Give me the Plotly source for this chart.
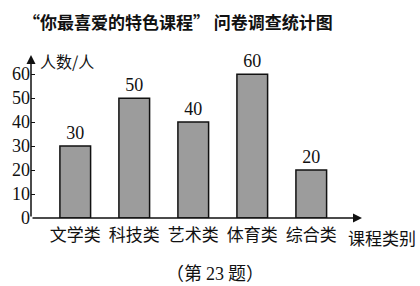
import plotly.graph_objects as go

categories = ["文学类", "科技类", "艺术类", "体育类", "综合类"]
values = [30, 50, 40, 60, 20]
y_ticks = [0, 10, 20, 30, 40, 50, 60]

SERIF = "Liberation Serif"
CJK = "Noto Sans CJK SC"

W, H = 420, 286
pl, pr, pt, pb = 29, 58, 55, 68
pw, ph = W - pl - pr, H - pt - pb

def px(x):
    return (x - pl) / pw

def py(y):
    return (H - pb - y) / ph

xs = list(range(len(categories)))
fig = go.Figure()
fig.add_trace(go.Bar(
    x=xs, y=values, width=0.52,
    marker=dict(color="#9c9c9c", line=dict(color="#111111", width=1.5)),
    text=[str(v) for v in values], textposition="outside",
    textfont=dict(family=SERIF, size=18, color="#111"),
    cliponaxis=False,
))

x0, x1 = -0.75, 4.86
y1 = 68

fig.update_layout(
    width=W, height=H,
    margin=dict(l=pl, r=pr, t=pt, b=pb),
    paper_bgcolor="white", plot_bgcolor="white",
    showlegend=False,
    xaxis=dict(range=[x0, x1], tickvals=xs, ticktext=categories,
               tickfont=dict(family=CJK, size=17, color="#111"),
               ticklabelstandoff=5,
               showgrid=False, zeroline=False, showline=False, ticks=""),
    yaxis=dict(range=[0, y1], tickvals=y_ticks, ticks="inside", ticklen=4,
               tickcolor="#111", tickwidth=1.2,
               tickfont=dict(family=SERIF, size=18, color="#111"),
               showgrid=False, zeroline=False, showline=False),
)

# axes with arrows
fig.add_annotation(x=x0, y=y1, ax=x0, ay=0, xref="x", yref="y", axref="x", ayref="y",
                   showarrow=True, arrowhead=2, arrowsize=1.2, arrowwidth=1.5,
                   arrowcolor="#111", text="")
fig.add_annotation(x=x1, y=0, ax=x0, ay=0, xref="x", yref="y", axref="x", ayref="y",
                   showarrow=True, arrowhead=2, arrowsize=1.2, arrowwidth=1.5,
                   arrowcolor="#111", text="")

fig.add_annotation(x=px(36), y=py(61), xref="paper", yref="paper", text="人数/人",
                   showarrow=False, xanchor="left", yanchor="middle",
                   font=dict(family=CJK, size=16, color="#111"))
fig.add_annotation(x=px(382), y=py(237), xref="paper", yref="paper", text="课程类别",
                   showarrow=False, xanchor="center", yanchor="middle",
                   font=dict(family=CJK, size=17, color="#111"))
fig.add_annotation(x=px(177), y=py(21), xref="paper", yref="paper",
                   text="<b>“你最喜爱的特色课程” 问卷调查统计图</b>",
                   showarrow=False, xanchor="center", yanchor="middle",
                   font=dict(family=CJK, size=17, color="#111"))
fig.add_annotation(x=px(214), y=py(272), xref="paper", yref="paper",
                   text="（第 <span style='font-family:Liberation Serif'>23</span> 题）",
                   showarrow=False, xanchor="center", yanchor="middle",
                   font=dict(family=CJK, size=18, color="#111"))

fig.write_html("out.html")
